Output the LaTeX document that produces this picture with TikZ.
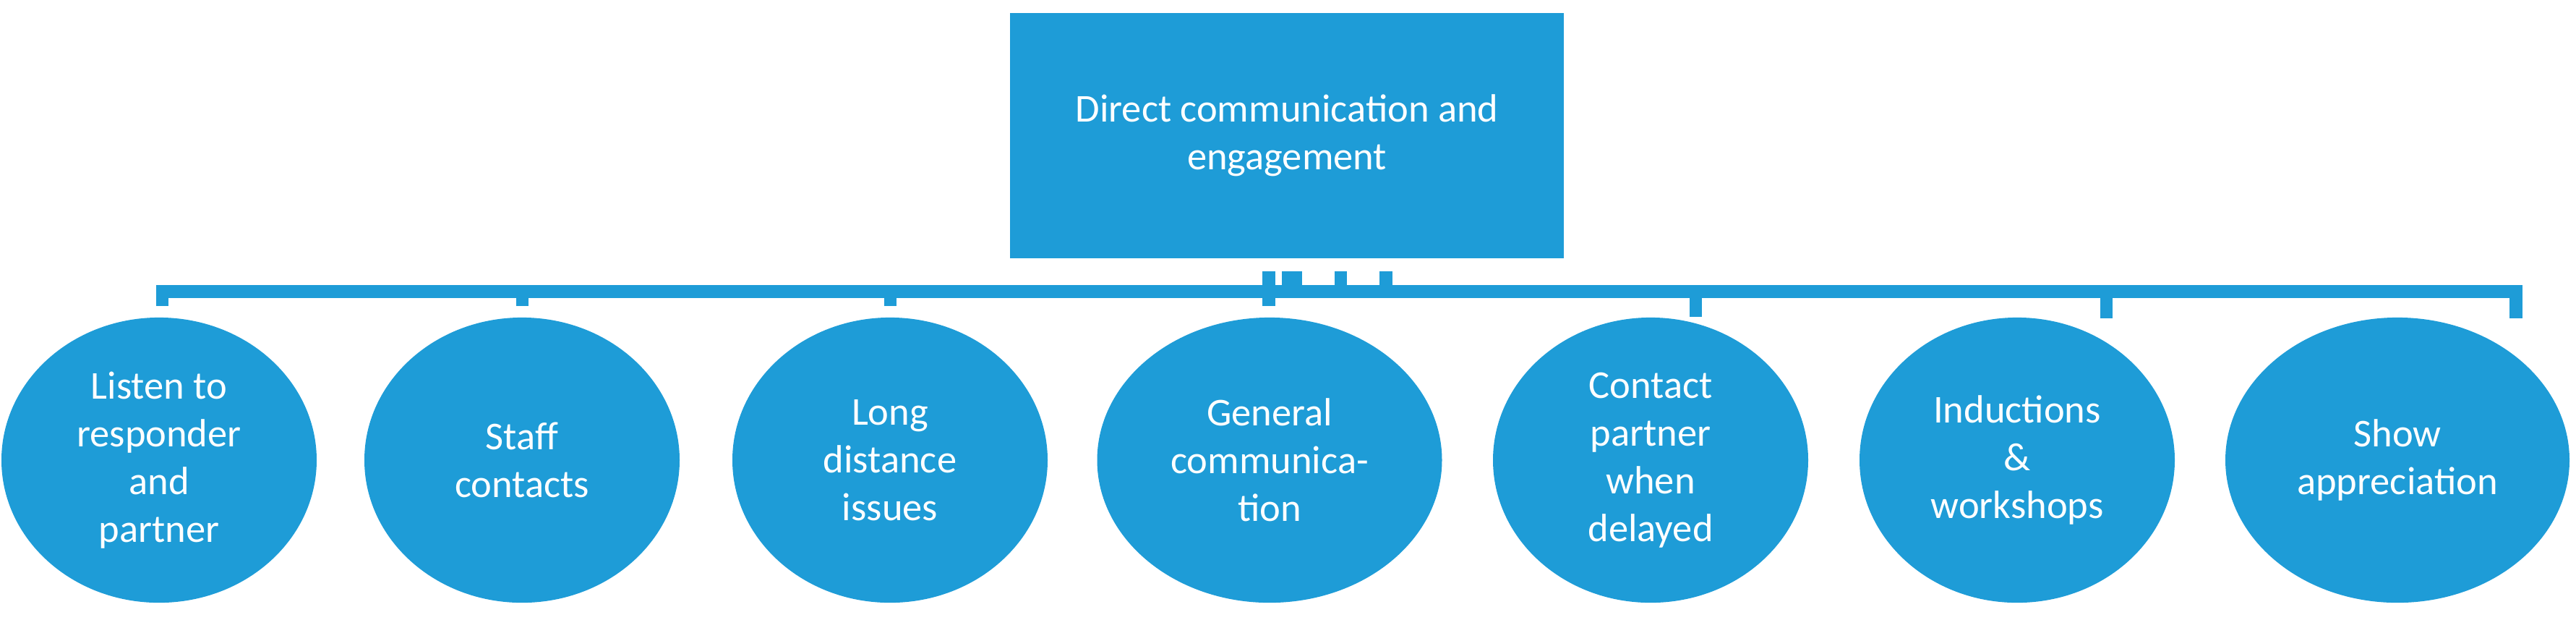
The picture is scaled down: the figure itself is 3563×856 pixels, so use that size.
\documentclass[tikz,border=0pt]{standalone}
\usepackage{fontspec}
\setmainfont{Carlito}
\usetikzlibrary{shapes.geometric}
\definecolor{bl}{HTML}{1E9CD7}
\begin{document}
\begin{tikzpicture}[x=0.01cm,y=-0.01cm,
  el/.style={ellipse,fill=bl,inner sep=0pt,text=white,align=center,font=\fontsize{15.5}{18.8}\selectfont}]
\useasboundingbox (0,0) rectangle (3563,856);
\node[rectangle,fill=bl,minimum width=7.66cm,minimum height=3.39cm,inner sep=0pt,text=white,align=center,font=\fontsize{15.5}{18.8}\selectfont] (top) at (1780,187.5) {Direct communication and\\engagement};
\coordinate (bl) at (216,394);
\coordinate (br) at (3489,412);
\fill[bl] (bl) rectangle (br);
\foreach \a/\b in {1746/1764,1773/1801,1846/1863,1908/1926}{\fill[bl] (\a,375) rectangle (\b,394);}
\foreach \a/\b/\c in {216/233/423,714/731/423,1223/1240/423,1746/1764/423,2337/2354/438,2905/2922/440,3471/3489/440}{\fill[bl] (\a,412) rectangle (\b,\c);}
\foreach \n/\x/\w/\t in {e1/220/436/{Listen to\\responder\\and\\partner},
 e2/722/436/{Staff\\contacts},
 e3/1231/436/{Long\\distance\\issues},
 e4/1756/477/{General\\communica-\\tion},
 e5/2283/436/{Contact\\partner\\when\\delayed},
 e6/2790/436/{Inductions\\\&\\workshops},
 e7/3316/476/{Show\\appreciation}}{
  \node[el,minimum width=\w*0.01cm,minimum height=3.94cm] (\n) at (\x,636) {\t};
}
\end{tikzpicture}
\end{document}
